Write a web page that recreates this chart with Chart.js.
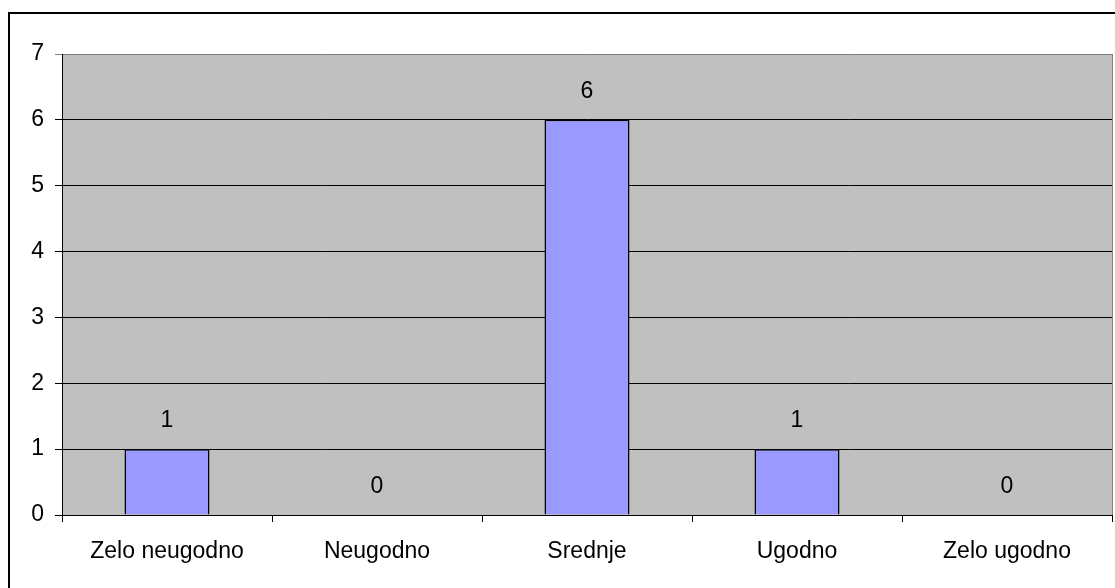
<!DOCTYPE html>
<html>
<head>
<meta charset="utf-8">
<script src="https://cdn.jsdelivr.net/npm/chart.js@4"></script>
<style>
  html, body { margin: 0; padding: 0; background: #fff; overflow: hidden; }
  #frame { position: absolute; left: 8px; top: 12px; width: 1300px; height: 800px;
           border-left: 2px solid #000; border-top: 2px solid #000; }
  #wrap { position: absolute; left: 0; top: 0; width: 1115px; height: 588px; }
</style>
</head>
<body>
<div id="frame"></div>
<div id="wrap"><canvas id="c" width="1115" height="588"></canvas></div>
<script>
const categories = ['Zelo neugodno', 'Neugodno', 'Srednje', 'Ugodno', 'Zelo ugodno'];
const counts = [1, 0, 6, 1, 0];
const yTicks = [0, 1, 2, 3, 4, 5, 6, 7];

const FONT = { family: '"Liberation Sans", Arial, sans-serif', size: 23 };

// Gray plot background plus the gray right edge of the plot area
const plotBackground = {
  id: 'plotBackground',
  beforeDraw(chart) {
    const { ctx, chartArea: a } = chart;
    ctx.save();
    ctx.fillStyle = '#C0C0C0';
    ctx.fillRect(a.left, a.top, a.right - a.left, a.bottom - a.top);
    ctx.restore();
  },
  afterDatasetsDraw(chart) {
    const { ctx, chartArea: a } = chart;
    ctx.save();
    ctx.strokeStyle = '#808080';
    ctx.lineWidth = 1;
    ctx.beginPath();
    ctx.moveTo(a.right + 0.5, a.top);
    ctx.lineTo(a.right + 0.5, a.bottom);
    ctx.stroke();
    ctx.restore();
  }
};

// Value written above each bar
const valueLabels = {
  id: 'valueLabels',
  afterDatasetsDraw(chart) {
    const { ctx } = chart;
    const meta = chart.getDatasetMeta(0);
    ctx.save();
    ctx.font = `${FONT.size}px ${FONT.family}`;
    ctx.fillStyle = '#000';
    ctx.textAlign = 'center';
    ctx.textBaseline = 'middle';
    meta.data.forEach((bar, i) => {
      ctx.fillText(String(counts[i]), bar.x, bar.y - 28);
    });
    ctx.restore();
  }
};

new Chart(document.getElementById('c'), {
  type: 'bar',
  data: {
    labels: categories,
    datasets: [{
      data: counts,
      backgroundColor: '#9999FF',
      borderColor: '#000',
      borderWidth: 1.5,
      categoryPercentage: 1,
      barPercentage: 0.405
    }]
  },
  options: {
    responsive: false,
    animation: false,
    events: [],
    layout: { padding: { top: 54, right: 3, left: 0, bottom: 0 } },
    plugins: { legend: { display: false }, tooltip: { enabled: false } },
    scales: {
      x: {
        grid: { drawOnChartArea: false, color: '#000', tickLength: 7, offset: true },
        border: { color: '#000', width: 1 },
        ticks: { color: '#000', font: FONT, padding: 16, maxRotation: 0 },
        afterFit(scale) { scale.height = 73; }
      },
      y: {
        min: 0,
        max: 7,
        grid: {
          color: ctx => (ctx.tick && ctx.tick.value === 7 ? '#808080' : '#000'),
          tickLength: 7
        },
        border: { color: '#000', width: 1 },
        ticks: {
          color: '#000', font: FONT, padding: 11, stepSize: 1,
          callback: (v) => (yTicks.includes(v) ? String(v) : '')
        },
        afterFit(scale) { scale.width = 62; }
      }
    }
  },
  plugins: [plotBackground, valueLabels]
});
</script>
</body>
</html>
